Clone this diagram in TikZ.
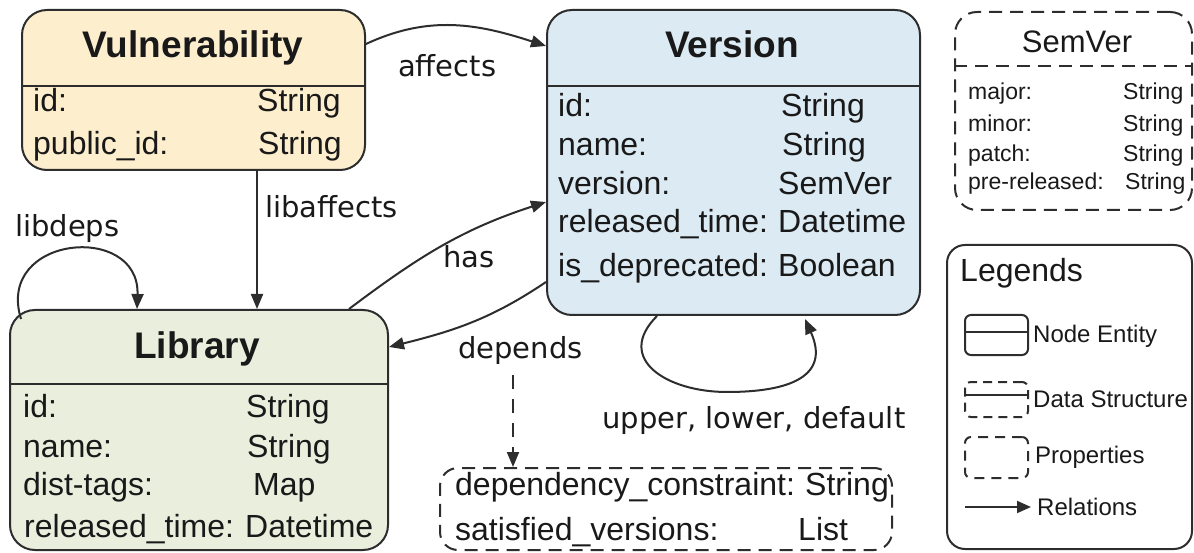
\documentclass[tikz,border=0pt]{standalone}
\usepackage{fontspec}
\setmainfont{Liberation Sans}
\newfontfamily\comic{DejaVu Sans}
\usetikzlibrary{arrows.meta,calc}
\definecolor{vulfill}{RGB}{253,239,206}
\definecolor{verfill}{RGB}{219,234,243}
\definecolor{libfill}{RGB}{233,238,221}
\definecolor{bordc}{RGB}{45,45,45}
\definecolor{txtc}{RGB}{25,25,25}
\begin{document}
\begin{tikzpicture}[x=1pt,y=1pt,
  entity/.style={draw=bordc, line width=2pt, rounded corners=25pt, inner sep=0pt},
  dbox/.style={draw=bordc, line width=2pt, dash pattern=on 13pt off 8pt, rounded corners=22pt, inner sep=0pt},
  sepline/.style={draw=bordc, line width=2pt},
  title/.style={font=\fontsize{37}{40}\selectfont\bfseries, text=txtc, inner sep=0pt, anchor=base},
  attr/.style={font=\fontsize{32}{36}\selectfont, text=txtc, anchor=base west, inner sep=0pt},
  sattr/.style={font=\fontsize{23}{26}\selectfont, text=txtc, anchor=base west, inner sep=0pt},
  legtext/.style={font=\fontsize{24}{27}\selectfont, text=txtc, anchor=base west, inner sep=0pt},
  rel/.style={draw=bordc, line width=2pt, -{Triangle[length=15pt,width=12pt]}},
  lab/.style={font=\comic\fontsize{29}{32}\selectfont, text=txtc, anchor=base west, inner sep=0pt}
]
\useasboundingbox (0,0) rectangle (1194,-553);

% ---------------- Vulnerability ----------------
\node[entity, fill=vulfill, minimum width=343pt, minimum height=160pt] (vul) at (193.5,-90) {};
\draw[sepline] ([yshift=-77pt]vul.north west) -- ([yshift=-77pt]vul.north east);
\node[title] (vult) at (193,-58) {Vulnerability};
\node[attr] (vula1) at (33,-112) {id:};
\node[attr] (vulb1) at (257,-112) {String};
\node[attr] (vula2) at (33,-155) {public\_id:};
\node[attr] (vulb2) at (258,-155) {String};

% ---------------- Version ----------------
\node[entity, fill=verfill, minimum width=373pt, minimum height=305pt] (ver) at (733.5,-162.5) {};
\draw[sepline] ([yshift=-77pt]ver.north west) -- ([yshift=-77pt]ver.north east);
\node[title] (vert) at (732,-58) {Version};
\node[attr] (vera1) at (558,-117) {id:};
\node[attr] (verb1) at (781,-117) {String};
\node[attr] (vera2) at (558,-156) {name:};
\node[attr] (verb2) at (782,-156) {String};
\node[attr] (vera3) at (558,-195) {version:};
\node[attr] (verb3) at (778,-195) {SemVer};
\node[attr] (vera4) at (558,-233) {released\_time:};
\node[attr] (verb4) at (778,-233) {Datetime};
\node[attr] (vera5) at (558,-277) {is\_deprecated:};
\node[attr] (verb5) at (778,-277) {Boolean};

% ---------------- Library ----------------
\node[entity, fill=libfill, minimum width=378pt, minimum height=240pt] (lib) at (199,-430) {};
\draw[sepline] ([yshift=-75pt]lib.north west) -- ([yshift=-75pt]lib.north east);
\node[title] (libt) at (197,-359) {Library};
\node[attr] (liba1) at (23,-417) {id:};
\node[attr] (libb1) at (246,-417) {String};
\node[attr] (liba2) at (23,-457) {name:};
\node[attr] (libb2) at (247,-457) {String};
\node[attr] (liba3) at (23,-495) {dist-tags:};
\node[attr] (libb3) at (253,-495) {Map};
\node[attr] (liba4) at (24,-537) {released\_time:};
\node[attr] (libb4) at (245,-537) {Datetime};

% ---------------- SemVer ----------------
\node[dbox, minimum width=237pt, minimum height=198pt] (sem) at (1073.5,-111) {};
\draw[sepline, dash pattern=on 13pt off 8pt] ([yshift=-55pt]sem.north west) -- ([yshift=-55pt]sem.north east);
\node[font=\fontsize{31}{34}\selectfont, text=txtc, inner sep=0pt, anchor=base] (semt) at (1077,-53) {SemVer};
\node[sattr] (sema1) at (968,-100) {major:};
\node[sattr] (semb1) at (1123,-100) {String};
\node[sattr] (sema2) at (968,-132) {minor:};
\node[sattr] (semb2) at (1123,-132) {String};
\node[sattr] (sema3) at (968,-162) {patch:};
\node[sattr] (semb3) at (1123,-162) {String};
\node[sattr] (sema4) at (968,-190) {pre-released:};
\node[sattr] (semb4) at (1125,-190) {String};

% ---------------- Properties box ----------------
\node[dbox, rounded corners=18pt, minimum width=452pt, minimum height=82pt] (prop) at (666,-509) {};
\node[attr] (propa1) at (455,-495) {dependency\_constraint:};
\node[attr] (propb1) at (805,-495) {String};
\node[attr] (propa2) at (455,-540) {satisfied\_versions:};
\node[attr] (propb2) at (798,-540) {List};

% ---------------- Legends ----------------
\node[draw=bordc, line width=2pt, rounded corners=18pt, minimum width=245pt, minimum height=304pt, inner sep=0pt] (leg) at (1069.5,-397) {};
\node[font=\fontsize{32}{35}\selectfont, text=txtc, inner sep=0pt, anchor=base west] (legt) at (960,-282) {Legends};
\node[draw=bordc, line width=2pt, rounded corners=6pt, minimum width=63pt, minimum height=40pt, inner sep=0pt] (icon1) at (996.5,-335) {};
\draw[sepline] ([yshift=-18pt]icon1.north west) -- ([yshift=-18pt]icon1.north east);
\node[legtext] (leg1) at (1033,-342) {Node Entity};
\node[draw=bordc, line width=2pt, dash pattern=on 9pt off 6pt, rounded corners=6pt, minimum width=63pt, minimum height=35pt, inner sep=0pt] (icon2) at (996.5,-399.5) {};
\draw[sepline] ([yshift=-14pt]icon2.north west) -- ([yshift=-14pt]icon2.north east);
\node[legtext] (leg2) at (1033,-407) {Data Structure};
\node[draw=bordc, line width=2pt, dash pattern=on 10pt off 7pt, rounded corners=6pt, minimum width=63pt, minimum height=41pt, inner sep=0pt] (icon3) at (996.5,-457.5) {};
\node[legtext] (leg3) at (1035,-463) {Properties};
\coordinate (relstart) at (965,-507);
\node[legtext] (leg4) at (1037,-515) {Relations};
\draw[line width=2pt, draw=bordc, -{Triangle[length=14pt,width=12pt]}] (relstart) -- ([xshift=-6pt]relstart -| leg4.west);

% ---------------- Relation labels ----------------
\node[lab] (laffects) at (398,-77) {affects};
\node[lab] (llibaff) at (265,-218) {libaffects};
\node[lab] (llibdeps) at (15,-237) {libdeps};
\node[lab] (lhas) at (443,-268) {has};
\node[lab] (ldepends) at (458,-358) {depends};
\node[lab] (lupper) at (602,-428) {upper, lower, default};

% ---------------- Relations ----------------
\draw[rel] ([yshift=-35pt]vul.north east) to[out=25,in=162] ([yshift=-37pt]ver.north west);
\draw[rel] ([xshift=63.5pt]vul.south) -- ([xshift=63.5pt]vul.south |- lib.north);
\draw[rel] ([xshift=12pt,yshift=-10pt]lib.north west) .. controls (-5,-235) and (140,-222) .. ([xshift=128pt]lib.north west);
\draw[rel] ([xshift=-40pt]lib.north east) to[out=37,in=198] ([yshift=-193pt]ver.north west);
\draw[rel] ([yshift=-273pt]ver.north west) to[out=214,in=14] ([yshift=-38pt]lib.north east);
\draw[rel, dash pattern=on 14pt off 10pt] ([xshift=55pt,yshift=-17pt]ldepends.base west) -- ([xshift=55pt]ldepends.base west |- prop.north);
\draw[rel] ([xshift=-76.5pt]ver.south) to[out=225,in=180,looseness=1.5] (727,-392) to[out=0,in=-66,looseness=1.5] ([xshift=71.5pt,yshift=-3pt]ver.south);
\end{tikzpicture}
\end{document}
